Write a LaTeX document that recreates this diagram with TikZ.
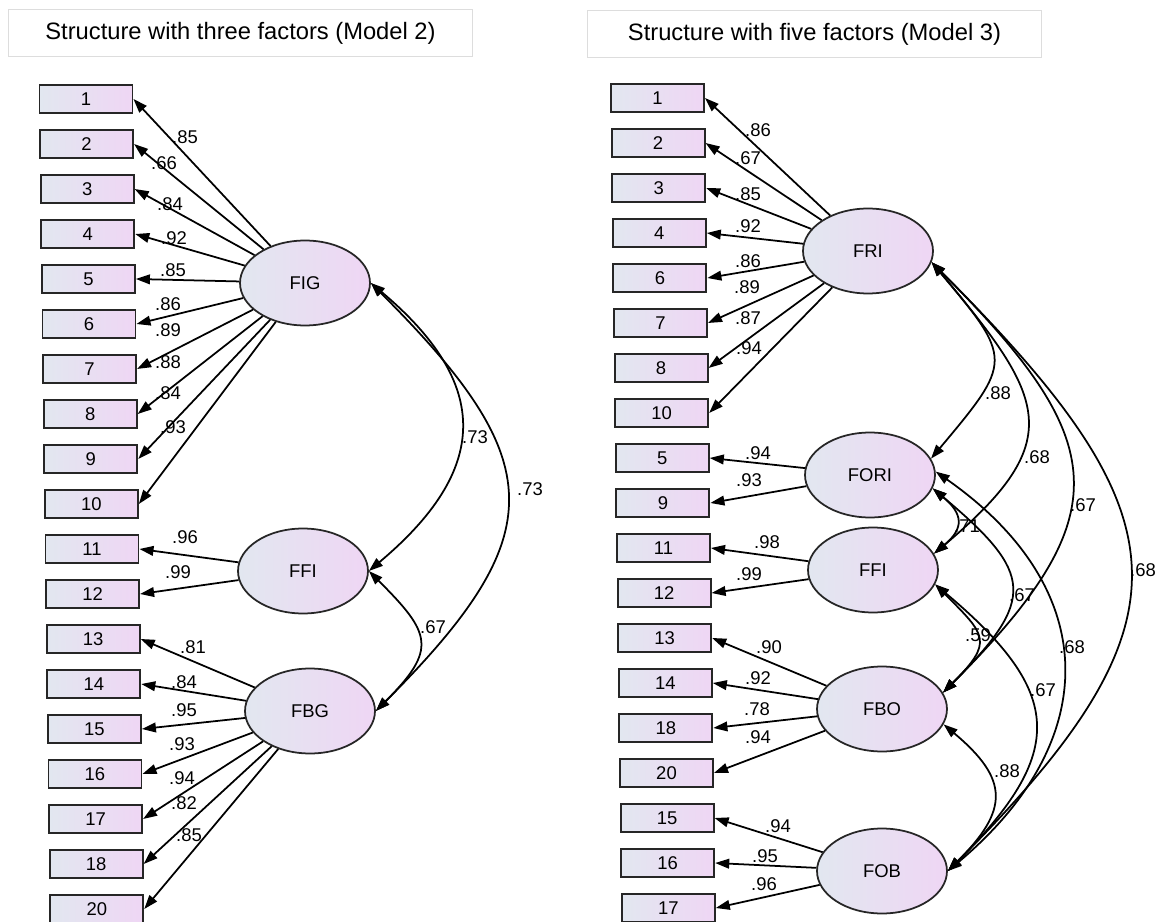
\documentclass[tikz,border=0pt]{standalone}
\usepackage{fontspec}
\setmainfont{Liberation Sans}
\usetikzlibrary{arrows.meta,shapes.geometric}
\definecolor{boxl}{HTML}{E2E7F0}
\definecolor{boxr}{HTML}{EFD6F4}
\definecolor{framegray}{HTML}{DDDDDD}
\begin{document}
\begin{tikzpicture}[x=0.02cm,y=-0.02cm,
  item/.style={rectangle,draw=black!85,line width=1.1pt,left color=boxl,right color=boxr,
    minimum width=1.86cm,minimum height=0.56cm,inner sep=0pt,font=\fontsize{10.5}{12}\selectfont},
  factor/.style={ellipse,draw=black!85,line width=1pt,left color=boxl,right color=boxr,
    minimum width=2.6cm,minimum height=1.7cm,inner sep=0pt,font=\fontsize{10.5}{12}\selectfont},
  coef/.style={inner sep=0pt,font=\fontsize{10.5}{12}\selectfont},
  load/.style={-{Triangle[length=8pt,width=5.5pt]},line width=1pt},
  cov/.style={{Triangle[length=8pt,width=5.5pt]}-{Triangle[length=8pt,width=5.5pt]},line width=1pt},
  title/.style={draw=framegray,line width=0.6pt,minimum height=0.95cm,font=\fontsize{13.5}{16}\selectfont}]
  \useasboundingbox (0,0) rectangle (1160,922);

  \node[title,minimum width=9.3cm] (t2) at (240.5,33) {Structure with three factors (Model 2)};
  \node[title,minimum width=9.1cm] (t3) at (814.5,34) {Structure with five factors (Model 3)};

  % items
  \foreach \val [count=\i] in {1,...,18,20}
    \node[item] (a\i) at ({86+0.6*(\i-1)},{99+45*(\i-1)}) {\val};
  \foreach \val [count=\i] in {1,2,3,4,6,7,8,10,5,9,11,12,13,14,18,20,15,16,17}
    \node[item] (b\i) at ({657.5+0.6*(\i-1)},{98+45*(\i-1)}) {\val};

  % factors
  \node[factor] (FIG) at (305,283) {FIG};
  \node[factor] (FFIa) at (303,571) {FFI};
  \node[factor] (FBG) at (310,711) {FBG};
  \node[factor] (FRI) at (868,251) {FRI};
  \node[factor] (FORI) at (870,475) {FORI};
  \node[factor] (FFIb) at (873,570) {FFI};
  \node[factor] (FBO) at (882,709) {FBO};
  \node[factor] (FOB) at (882,871) {FOB};

  % loadings, model 2
  \foreach \i/\val/\lx/\ly in {1/.85/185/137,2/.66/164/163,3/.84/170/204,4/.92/174/238,5/.85/173/270,
      6/.86/168/304,7/.89/168/330,8/.88/168/362,9/.84/168/393,10/.93/173/427} {
    \draw[load] (FIG) -- (a\i.east);
    \node[coef] (ca\i) at (\lx,\ly) {\val};
  }
  \foreach \i/\val/\lx/\ly in {11/.96/185/537,12/.99/178/572} {
    \draw[load] (FFIa) -- (a\i.east);
    \node[coef] (ca\i) at (\lx,\ly) {\val};
  }
  \foreach \i/\val/\lx/\ly in {13/.81/193/647,14/.84/184/682,15/.95/184/710,16/.93/182/744,
      17/.94/182/778,18/.82/184/803,19/.85/189/835} {
    \draw[load] (FBG) -- (a\i.east);
    \node[coef] (ca\i) at (\lx,\ly) {\val};
  }

  % loadings, model 3
  \foreach \i/\val/\lx/\ly in {1/.86/758/130,2/.67/748/158,3/.85/748/194,4/.92/748/226,
      5/.86/748/261,6/.89/747/287,7/.87/748/318,8/.94/749/348} {
    \draw[load] (FRI) -- (b\i.east);
    \node[coef] (cb\i) at (\lx,\ly) {\val};
  }
  \foreach \i/\val/\lx/\ly in {9/.94/758/453,10/.93/749/480} {
    \draw[load] (FORI) -- (b\i.east);
    \node[coef] (cb\i) at (\lx,\ly) {\val};
  }
  \foreach \i/\val/\lx/\ly in {11/.98/767/542,12/.99/749/574} {
    \draw[load] (FFIb) -- (b\i.east);
    \node[coef] (cb\i) at (\lx,\ly) {\val};
  }
  \foreach \i/\val/\lx/\ly in {13/.90/769/647,14/.92/758/678,15/.78/757/709,16/.94/758/737} {
    \draw[load] (FBO) -- (b\i.east);
    \node[coef] (cb\i) at (\lx,\ly) {\val};
  }
  \foreach \i/\val/\lx/\ly in {17/.94/778/826,18/.95/765/856,19/.96/764/884} {
    \draw[load] (FOB) -- (b\i.east);
    \node[coef] (cb\i) at (\lx,\ly) {\val};
  }

  % correlations, model 2
  \draw[cov] (FIG.east) to[out=-40,in=40,looseness=1.4] (FFIa.east);
  \draw[cov] (FIG.east) to[out=-45,in=45,looseness=1.5] (FBG.east);
  \draw[cov] (FFIa.east) to[out=-45,in=45,looseness=1.6] (FBG.east);
  \node[coef] (r1) at (475,437) {.73};
  \node[coef] (r2) at (530,489) {.73};
  \node[coef] (r3) at (433,627) {.67};

  % correlations, model 3
  \draw[cov] (FRI.-10) to[out=-50,in=50,looseness=1.65] (FORI.15);
  \draw[cov] (FRI.-10) to[out=-50,in=40,looseness=1.55] (FFIb.15);
  \draw[cov] (FRI.-10) to[out=-45,in=45,looseness=1.5] (FBO.15);
  \draw[cov] (FRI.-10) to[out=-45,in=45,looseness=1.5] (FOB.0);
  \draw[cov] (FORI.-12) to[out=-40,in=40,looseness=1.55] (FFIb.15);
  \draw[cov] (FORI.-12) to[out=-40,in=45,looseness=1.65] (FBO.15);
  \draw[cov] (FORI.3) to[out=-35,in=40,looseness=1.3] (FOB.0);
  \draw[cov] (FFIb.-13) to[out=-45,in=45,looseness=1.7] (FBO.15);
  \draw[cov] (FFIb.-13) to[out=-40,in=45,looseness=1.5] (FOB.0);
  \draw[cov] (FBO.-14) to[out=-40,in=45,looseness=1.5] (FOB.0);
  \node[coef] (s1) at (998,393) {.88};
  \node[coef] (s2) at (1037,457) {.68};
  \node[coef] (s3) at (1083,505) {.67};
  \node[coef] (s4) at (1143,570) {.68};
  \node[coef] (s5) at (967,526) {.71};
  \node[coef] (s6) at (1022,595) {.67};
  \node[coef] (s7) at (1072,647) {.68};
  \node[coef] (s8) at (978,635) {.59};
  \node[coef] (s9) at (1043,690) {.67};
  \node[coef] (s10) at (1007,771) {.88};
\end{tikzpicture}
\end{document}
